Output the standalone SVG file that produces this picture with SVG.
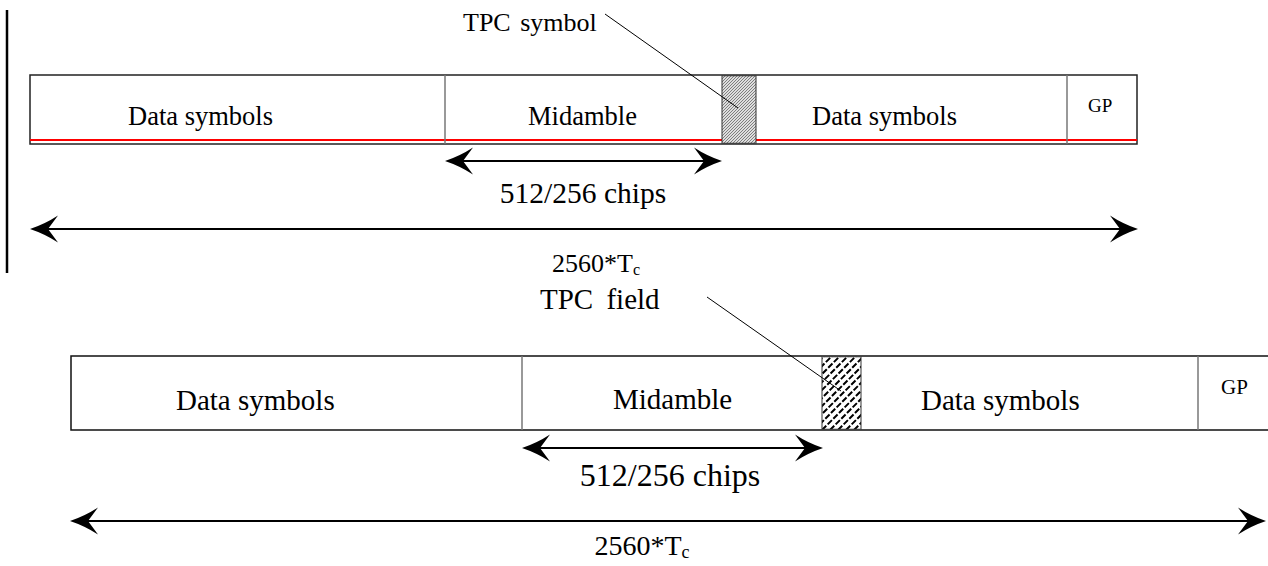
<svg xmlns="http://www.w3.org/2000/svg" width="1268" height="566" viewBox="0 0 1268 566">
<style>
text{font-family:"Liberation Serif","Times New Roman",serif;fill:#000}
.box{fill:#fff;stroke:#222;stroke-width:1.5}
.div{stroke:#777;stroke-width:1.5}
.edge{stroke:#111;stroke-width:1.5;fill:none}
.arr{stroke:#000;stroke-width:2;fill:none}
.lead{stroke:#000;stroke-width:1;fill:none}
.hb{stroke:#000;stroke-width:2;stroke-dasharray:6,2}
.t1{font-size:26.5px}
.t2{font-size:29px}
.mid{text-anchor:middle}
</style>
<defs>
<marker id="ah" viewBox="-12 -15 32 30" refX="0" refY="0" markerWidth="32" markerHeight="30" markerUnits="userSpaceOnUse" orient="auto-start-reverse">
<path d="M18,0 Q3,-5 -10,-13.5 L0,0 L-10,13.5 Q3,5 18,0 Z" fill="#000"/>
</marker>
<pattern id="fine" patternUnits="userSpaceOnUse" width="3" height="3">
<rect width="3" height="3" fill="#dedede"/>
<path d="M-1,1 L1,-1 M0,3 L3,0 M2,4 L4,2" stroke="#666" stroke-width="0.8"/>
</pattern>
<clipPath id="cb"><rect x="822" y="356.75" width="39" height="72.5"/></clipPath>
</defs>
<rect width="1268" height="566" fill="#fff"/>
<line x1="7" y1="10" x2="7" y2="273" stroke="#000" stroke-width="2.5"/>

<g id="top-frame">
<rect class="box" x="30" y="75" width="1107" height="69"/>
<line x1="30" y1="140" x2="1137" y2="140" stroke="#f00" stroke-width="2"/>
</g>
<g id="top-data1"><text class="t1" x="128" y="125">Data symbols</text></g>
<g id="top-midamble"><line class="div" x1="445" y1="75" x2="445" y2="144"/><text class="t1" x="528" y="125">Midamble</text></g>
<g id="top-tpc"><rect x="722" y="75.75" width="34" height="67.5" fill="url(#fine)" stroke="#333" stroke-width="1"/></g>
<g id="top-data2"><text class="t1" x="812" y="125">Data symbols</text></g>
<g id="top-gp"><line class="div" x1="1067" y1="75" x2="1067" y2="144"/><text x="1088" y="112" font-size="19">GP</text></g>
<g id="top-tpc-label"><text x="463" y="31" font-size="26" word-spacing="3">TPC symbol</text></g>
<g id="top-chips-label"><text class="mid" x="583" y="203" font-size="29.5">512/256 chips</text></g>
<g id="top-tc-label"><text class="mid" x="596" y="272" font-size="26">2560*T<tspan font-size="16" dy="3">c</tspan></text></g>

<g id="bot-frame">
<path class="edge" d="M1268,356 H71 V430 H1268"/>
</g>
<g id="bot-data1"><text class="t2" x="176" y="410">Data symbols</text></g>
<g id="bot-midamble"><line class="div" x1="522" y1="356" x2="522" y2="430"/><text class="t2" x="613" y="409">Midamble</text></g>
<g id="bot-tpc">
<rect x="822" y="356.75" width="39" height="72.5" fill="#fff"/>
<g clip-path="url(#cb)">
<line class="hb" x1="742" y1="430" x2="816" y2="356"/>
<line class="hb" x1="750" y1="430" x2="824" y2="356"/>
<line class="hb" x1="758" y1="430" x2="832" y2="356"/>
<line class="hb" x1="766" y1="430" x2="840" y2="356"/>
<line class="hb" x1="774" y1="430" x2="848" y2="356"/>
<line class="hb" x1="782" y1="430" x2="856" y2="356"/>
<line class="hb" x1="790" y1="430" x2="864" y2="356"/>
<line class="hb" x1="798" y1="430" x2="872" y2="356"/>
<line class="hb" x1="806" y1="430" x2="880" y2="356"/>
<line class="hb" x1="814" y1="430" x2="888" y2="356"/>
<line class="hb" x1="822" y1="430" x2="896" y2="356"/>
<line class="hb" x1="830" y1="430" x2="904" y2="356"/>
<line class="hb" x1="838" y1="430" x2="912" y2="356"/>
<line class="hb" x1="846" y1="430" x2="920" y2="356"/>
<line class="hb" x1="854" y1="430" x2="928" y2="356"/>
<line class="hb" x1="862" y1="430" x2="936" y2="356"/>
</g>
<rect x="822" y="356.75" width="39" height="72.5" fill="none" stroke="#333" stroke-width="1"/>
</g>
<g id="bot-data2"><text class="t2" x="921" y="410">Data symbols</text></g>
<g id="bot-gp"><line class="div" x1="1198" y1="356" x2="1198" y2="430"/><text x="1221" y="394" font-size="21">GP</text></g>
<g id="bot-tpc-label"><text x="540" y="309" font-size="29" word-spacing="6">TPC field</text></g>
<g id="bot-chips-label"><text class="mid" x="670" y="486" font-size="32">512/256 chips</text></g>
<g id="bot-tc-label"><text class="mid" x="642" y="555" font-size="28">2560*T<tspan font-size="18" dy="3">c</tspan></text></g>

<g id="connectors">
<line class="lead" x1="605" y1="14" x2="738" y2="108"/>
<line class="arr" x1="463" y1="161" x2="704" y2="161" marker-start="url(#ah)" marker-end="url(#ah)"/>
<line class="arr" x1="48" y1="229" x2="1120" y2="229" marker-start="url(#ah)" marker-end="url(#ah)"/>
<line class="lead" x1="707" y1="297" x2="841" y2="391"/>
<line class="arr" x1="540" y1="448" x2="805" y2="448" marker-start="url(#ah)" marker-end="url(#ah)"/>
<line class="arr" x1="88" y1="521" x2="1248" y2="521" marker-start="url(#ah)" marker-end="url(#ah)"/>
</g>
</svg>
